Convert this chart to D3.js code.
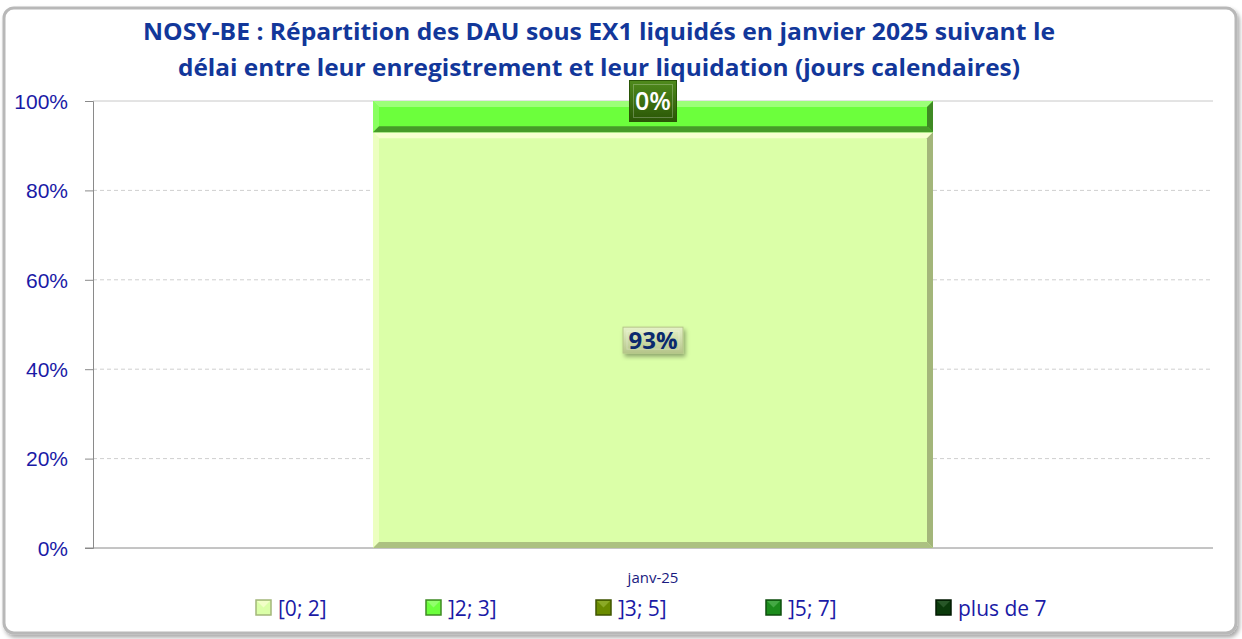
<!DOCTYPE html>
<html>
<head>
<meta charset="utf-8">
<script src="https://cdn.jsdelivr.net/npm/d3@7"></script>
<style>
  body { margin: 0; background: #fff; }
  svg { display: block; }
</style>
</head>
<body>
<div id="chart"></div>
<script>
const categories = ["janv-25"];
const seriesNames = ["[0; 2]", "]2; 3]", "]3; 5]", "]5; 7]", "plus de 7"];
const seriesValues = [[0.93], [0.07], [0], [0], [0]];
const yTicks = [0, 0.2, 0.4, 0.6, 0.8, 1];
// labels Excel leaves visible (the others are hidden under the top box)
const shownLabels = ["[0; 2]", "]5; 7]"];

const colors = {
  "[0; 2]":    { fill: "#dbffa8", hi: "#f7ffd0", lo: "#a3b67a", box: ["#e6f2c8", "#b5c58a"], text: "#0b2a6e" },
  "]2; 3]":    { fill: "#6cff3c", hi: "#9cff78", lo: "#3f8a24", box: ["#8cff5c", "#3f9a20"], text: "#fff" },
  "]3; 5]":    { fill: "#6b8c00", hi: "#94b230", lo: "#3f5400", box: ["#8aa828", "#4a6400"], text: "#fff" },
  "]5; 7]":    { fill: "#1c8c1c", hi: "#4fb04f", lo: "#0e4e0e", box: ["#4f8a1c", "#2a5606"], text: "#fff" },
  "plus de 7": { fill: "#0b3a0b", hi: "#2f5f2f", lo: "#031a03", box: ["#2f5f2f", "#031a03"], text: "#fff" }
};

const W = 1242, H = 639;
const margin = { top: 101, right: 29, bottom: 91, left: 93 };

const svg = d3.select("#chart").append("svg")
  .attr("width", W).attr("height", H)
  .style("font-family", "'Open Sans', 'Noto Sans', sans-serif");

const defs = svg.append("defs");
const sh = defs.append("filter").attr("id", "shadow").attr("x", "-10%").attr("y", "-10%").attr("width", "130%").attr("height", "140%");
sh.append("feDropShadow").attr("dx", 2).attr("dy", 3).attr("stdDeviation", 2).attr("flood-color", "#000").attr("flood-opacity", 0.35);

// outer frame
svg.append("rect")
  .attr("x", 4).attr("y", 8).attr("width", W - 10).attr("height", H - 14)
  .attr("rx", 10)
  .attr("fill", "#fff")
  .attr("stroke", "#b8b8b8").attr("stroke-width", 3)
  .attr("filter", "url(#shadow)");

// title
const title = svg.append("g").attr("fill", "#12379a").attr("font-weight", "bold")
  .attr("text-anchor", "middle").attr("font-size", 23);
title.append("text").attr("x", 599).attr("y", 40).attr("textLength", 912).attr("lengthAdjust", "spacingAndGlyphs")
  .text("NOSY-BE : Répartition des DAU sous EX1 liquidés en janvier 2025 suivant le");
title.append("text").attr("x", 599).attr("y", 76).attr("textLength", 842).attr("lengthAdjust", "spacingAndGlyphs")
  .text("délai entre leur enregistrement et leur liquidation (jours calendaires)");

const x = d3.scaleBand().domain(categories)
  .range([margin.left, W - margin.right]).paddingInner(0.5).paddingOuter(0.25);
const y = d3.scaleLinear().domain([0, 1]).range([H - margin.bottom, margin.top]);

// grid
svg.append("g").selectAll("line").data(yTicks.filter(d => d > 0 && d < 1)).join("line")
  .attr("x1", margin.left).attr("x2", W - margin.right)
  .attr("y1", d => y(d)).attr("y2", d => y(d))
  .attr("stroke", "#cfcfcf").attr("stroke-dasharray", "4,3");
svg.append("line")
  .attr("x1", margin.left).attr("x2", W - margin.right)
  .attr("y1", y(1)).attr("y2", y(1)).attr("stroke", "#c8c8c8");

// y axis
const yAxis = svg.append("g").attr("transform", `translate(${margin.left},0)`)
  .call(d3.axisLeft(y).tickValues(yTicks).tickFormat(d3.format(".0%")).tickSize(8).tickPadding(17));
yAxis.select(".domain").attr("stroke", "#8a8a8a");
yAxis.selectAll(".tick line").attr("stroke", "#8a8a8a");
yAxis.selectAll(".tick text").attr("fill", "#1a1aa6").attr("font-size", 21).attr("dy", "0.35em");

// x axis line
svg.append("line")
  .attr("x1", margin.left - 8).attr("x2", W - margin.right)
  .attr("y1", y(0)).attr("y2", y(0)).attr("stroke", "#8a8a8a");

// stacked data
const rows = categories.map((c, i) => {
  const r = { cat: c };
  seriesNames.forEach((s, j) => r[s] = seriesValues[j][i]);
  return r;
});
const stacked = d3.stack().keys(seriesNames)(rows);

const bev = 6;
const bars = svg.append("g");
stacked.forEach(layer => {
  const c = colors[layer.key];
  layer.forEach(d => {
    const x0 = x(d.data.cat), x1 = x0 + x.bandwidth();
    const yt = y(d[1]), yb = y(d[0]);
    if (yb - yt < 0.5) return;
    const g = bars.append("g");
    const b = Math.min(bev, (yb - yt) / 2);
    g.append("rect").attr("x", x0).attr("y", yt).attr("width", x1 - x0).attr("height", yb - yt).attr("fill", c.fill);
    // top
    g.append("polygon").attr("points", [[x0, yt], [x1, yt], [x1 - b, yt + b], [x0 + b, yt + b]].join(" ")).attr("fill", c.hi);
    // left
    g.append("polygon").attr("points", [[x0, yt], [x0 + b, yt + b], [x0 + b, yb - b], [x0, yb]].join(" ")).attr("fill", c.hi).attr("opacity", 0.6);
    // right
    g.append("polygon").attr("points", [[x1, yt], [x1, yb], [x1 - b, yb - b], [x1 - b, yt + b]].join(" ")).attr("fill", c.lo);
    // bottom
    g.append("polygon").attr("points", [[x0, yb], [x1, yb], [x1 - b, yb - b], [x0 + b, yb - b]].join(" ")).attr("fill", c.lo).attr("opacity", 0.85);
  });
});

// data labels
const fmt = d3.format(".0%");
stacked.filter(l => shownLabels.includes(l.key)).forEach(layer => {
  const c = colors[layer.key];
  const gid = "lg" + seriesNames.indexOf(layer.key);
  const lg = defs.append("linearGradient").attr("id", gid).attr("x1", 0).attr("y1", 0).attr("x2", 0).attr("y2", 1);
  lg.append("stop").attr("offset", "0%").attr("stop-color", c.box[0]);
  lg.append("stop").attr("offset", "100%").attr("stop-color", c.box[1]);
  layer.forEach(d => {
    const cx = x(d.data.cat) + x.bandwidth() / 2;
    const cy = (y(d[0]) + y(d[1])) / 2;
    const txt = fmt(d[1] - d[0]);
    const big = txt.length > 2;
    const bw = big ? 60 : 47, bh = big ? 26 : 41;
    const g = svg.append("g").attr("transform", `translate(${cx},${cy})`);
    g.append("rect").attr("x", -bw / 2).attr("y", -bh / 2).attr("width", bw).attr("height", bh)
      .attr("fill", `url(#${gid})`).attr("stroke", c.box[1]).attr("stroke-width", 1)
      .attr("filter", big ? "url(#shadow)" : null);
    g.append("rect").attr("x", -bw / 2 + 4).attr("y", -bh / 2 + 4).attr("width", bw - 8).attr("height", bh - 8)
      .attr("fill", "none").attr("stroke", "#fff").attr("stroke-opacity", 0.25);
    g.append("text").attr("text-anchor", "middle").attr("dy", "0.36em")
      .attr("font-weight", big ? "bold" : 600).attr("font-size", big ? 24 : 25).attr("fill", c.text)
      .text(txt);
  });
});

// category label
svg.append("g").selectAll("text").data(categories).join("text")
  .attr("x", d => x(d) + x.bandwidth() / 2).attr("y", 583)
  .attr("text-anchor", "middle").attr("font-size", 15).attr("fill", "#1a1a80")
  .text(d => d);

// legend
const legX = d3.scalePoint().domain(seriesNames).range([256, 936]);
const leg = svg.append("g").selectAll("g").data(seriesNames).join("g")
  .attr("transform", d => `translate(${legX(d)},600)`);
leg.append("rect").attr("width", 15).attr("height", 15).attr("fill", d => colors[d].fill)
  .attr("stroke", d => colors[d].lo).attr("stroke-width", 1.5);
leg.append("path").attr("d", "M1,1 L7.5,7.5 L14,1 Z").attr("fill", d => colors[d].hi).attr("opacity", 0.8);
leg.append("text").attr("x", 22).attr("y", 16).attr("font-size", 21).attr("fill", "#1a1aa6")
  .text(d => d);
</script>
</body>
</html>
